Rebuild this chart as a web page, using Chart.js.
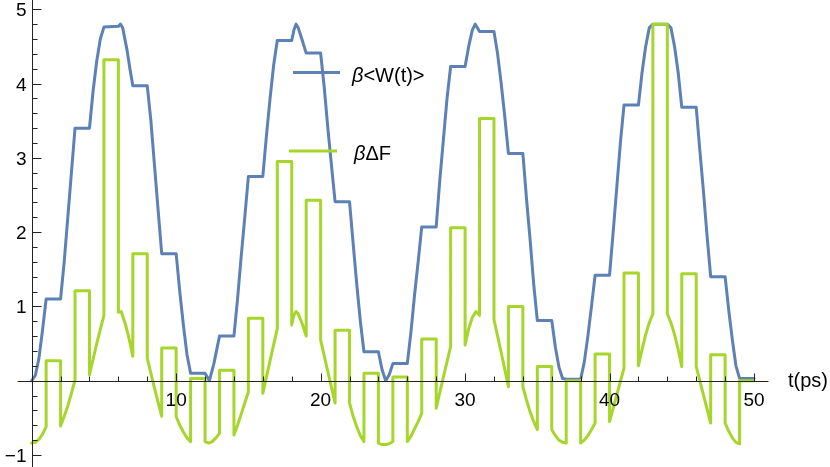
<!DOCTYPE html>
<html>
<head>
<meta charset="utf-8">
<script src="https://cdn.jsdelivr.net/npm/chart.js@4"></script>
<style>
  html, body { margin: 0; padding: 0; background: #fff; }
  #wrap { width: 830px; height: 467px; }
</style>
</head>
<body>
<div id="wrap"><canvas id="plot" width="830" height="467"></canvas></div>
<script>
// β<W(t)>  [t (ps), value]
const workPoints = [
  [0,0],[0.25,0.07],[0.5,0.3],[0.75,0.68],[1,1.1],
  [2,1.1],[2.25,1.6],[2.5,2.2],[2.75,2.8],[3,3.4],
  [4,3.4],[4.25,3.9],[4.5,4.3],[4.75,4.6],[5,4.76],
  [6,4.77],[6.15,4.8],[6.3,4.75],[6.6,4.45],[6.8,4.2],[7,3.97],
  [8,3.97],[8.25,3.5],[8.5,2.9],[8.75,2.3],[9,1.71],
  [10,1.71],[10.25,1.2],[10.5,0.75],[10.75,0.35],[11,0.1],
  [12,0.1],[12.3,0],[12.6,0.22],[13,0.6],
  [14,0.6],[14.25,1.1],[14.5,1.67],[14.75,2.2],[15,2.75],
  [16,2.75],[16.25,3.3],[16.5,3.8],[16.75,4.25],[17,4.58],
  [18,4.58],[18.15,4.72],[18.3,4.8],[18.45,4.75],[18.7,4.6],[19,4.41],
  [20,4.41],[20.25,3.95],[20.5,3.4],[20.75,2.9],[21,2.41],
  [22,2.41],[22.25,1.85],[22.5,1.3],[22.75,0.8],[23,0.39],
  [24,0.39],[24.25,0.15],[24.5,0],[24.75,0.08],[25,0.23],
  [26,0.23],[26.25,0.65],[26.5,1.15],[26.75,1.6],[27,2.07],
  [28,2.07],[28.25,2.7],[28.5,3.25],[28.75,3.8],[29,4.23],
  [30,4.23],[30.25,4.5],[30.5,4.72],[30.7,4.8],[30.85,4.75],[31,4.7],
  [32,4.7],[32.25,4.4],[32.5,4.0],[32.75,3.55],[33,3.06],
  [34,3.06],[34.25,2.45],[34.5,1.9],[34.75,1.3],[35,0.81],
  [36,0.81],[36.25,0.45],[36.5,0.18],[36.75,0.03],[37,0.02],
  [38,0.02],[38.25,0.25],[38.5,0.6],[38.75,1.0],[39,1.42],
  [40,1.42],[40.25,2.0],[40.5,2.6],[40.75,3.2],[41,3.71],
  [42,3.71],[42.25,4.15],[42.5,4.5],[42.75,4.75],[43,4.8],
  [44,4.8],[44.25,4.75],[44.5,4.5],[44.75,4.15],[45,3.68],
  [46,3.68],[46.25,3.1],[46.5,2.55],[46.75,1.95],[47,1.4],
  [48,1.4],[48.25,0.95],[48.5,0.55],[48.75,0.2],[49,0.03],
  [50,0.03]
];

// βΔF  [t (ps), value]
const freePoints = [
  [0,-0.84],[0.25,-0.83],[0.5,-0.79],[0.75,-0.72],[1,-0.62],
  [1,0.27],[2,0.27],
  [2,-0.61],[2.25,-0.48],[2.5,-0.34],[2.75,-0.17],[3,0.01],
  [3,1.21],[4,1.21],
  [4,0.08],[4.5,0.5],[5,0.88],
  [5,4.32],[6,4.32],
  [6,0.92],[6.2,0.93],[6.5,0.75],[6.75,0.56],[7,0.33],
  [7,1.71],[8,1.71],
  [8,0.3],[8.5,-0.1],[9,-0.48],
  [9,0.44],[10,0.44],
  [10,-0.48],[10.25,-0.6],[10.5,-0.69],[10.75,-0.77],[11,-0.82],
  [11,0.03],[12,0.03],
  [12,-0.82],[12.25,-0.84],[12.5,-0.82],[12.75,-0.77],[13,-0.71],
  [13,0.14],[14,0.14],
  [14,-0.73],[14.25,-0.6],[14.5,-0.45],[14.75,-0.3],[15,-0.15],
  [15,0.84],[16,0.84],
  [16,-0.17],[16.5,0.27],[17,0.7],
  [17,2.95],[18,2.95],
  [18,0.75],[18.15,0.88],[18.3,0.93],[18.45,0.9],[18.7,0.78],[19,0.6],
  [19,2.43],[20,2.43],
  [20,0.55],[20.5,0.12],[21,-0.3],
  [21,0.68],[22,0.68],
  [22,-0.3],[22.25,-0.48],[22.5,-0.62],[22.75,-0.74],[23,-0.82],
  [23,0.1],[24,0.1],
  [24,-0.84],[24.25,-0.86],[24.5,-0.86],[24.75,-0.85],[25,-0.82],
  [25,0.05],[26,0.05],
  [26,-0.82],[26.25,-0.75],[26.5,-0.65],[26.75,-0.55],[27,-0.44],
  [27,0.56],[28,0.56],
  [28,-0.37],[28.5,0.05],[29,0.46],
  [29,2.06],[30,2.06],
  [30,0.48],[30.25,0.7],[30.5,0.85],[30.75,0.93],[31,0.88],
  [31,3.53],[32,3.53],
  [32,0.82],[32.5,0.38],[33,-0.08],
  [33,1.0],[34,1.0],
  [34,-0.08],[34.25,-0.26],[34.5,-0.42],[34.75,-0.55],[35,-0.66],
  [35,0.19],[36,0.19],
  [36,-0.66],[36.25,-0.74],[36.5,-0.8],[36.75,-0.83],[37,-0.84],
  [37,0],[38,0],
  [38,-0.84],[38.25,-0.8],[38.5,-0.74],[38.75,-0.66],[39,-0.57],
  [39,0.36],[40,0.36],
  [40,-0.55],[40.5,-0.19],[41,0.17],
  [41,1.45],[42,1.45],
  [42,0.2],[42.25,0.42],[42.5,0.62],[42.75,0.78],[43,0.9],
  [43,4.8],[44,4.8],
  [44,0.9],[44.25,0.78],[44.5,0.62],[44.75,0.42],[45,0.19],
  [45,1.44],[46,1.44],
  [46,0.19],[46.5,-0.19],[47,-0.57],
  [47,0.35],[48,0.35],
  [48,-0.57],[48.25,-0.68],[48.5,-0.77],[48.75,-0.83],[49,-0.85],
  [49,0],[50,0]
];

const xMajorTicks = [10, 20, 30, 40, 50];
const yMajorTicks = [-1, 1, 2, 3, 4, 5];

const BLUE = '#5e81b5';
const GREEN = '#a6d62b';
const FONT = '"Liberation Sans", Arial, sans-serif';

const toXY = pts => pts.map(p => ({ x: p[0], y: p[1] }));

// Mathematica-style axes through the origin + legend
const mmaAxes = {
  id: 'mmaAxes',
  afterDatasetsDraw(chart) {
    const ctx = chart.ctx;
    const xs = chart.scales.x, ys = chart.scales.y;
    const X = v => xs.getPixelForValue(v);
    const Y = v => ys.getPixelForValue(v);
    const ox = Math.round(X(0)) + 0.5;
    const oy = Math.round(Y(0)) + 0.5;

    ctx.save();
    ctx.strokeStyle = '#222';
    ctx.lineWidth = 1;
    ctx.beginPath();
    ctx.moveTo(X(-0.97), oy); ctx.lineTo(X(51), oy);
    ctx.moveTo(ox, Y(5.14)); ctx.lineTo(ox, Y(-1.2));
    // x ticks
    for (let t = 2; t <= 50; t += 2) {
      const px = Math.round(X(t)) + 0.5;
      const len = t % 10 === 0 ? 8 : 5;
      ctx.moveTo(px, oy); ctx.lineTo(px, oy - len);
    }
    // y ticks
    for (let i = -5; i <= 25; i++) {
      if (i === 0) continue;
      const v = i / 5;
      const py = Math.round(Y(v)) + 0.5;
      const len = i % 5 === 0 ? 9 : 5;
      ctx.moveTo(ox, py); ctx.lineTo(ox + len, py);
    }
    ctx.stroke();

    ctx.fillStyle = '#000';
    ctx.font = '19px ' + FONT;
    ctx.textBaseline = 'alphabetic';
    ctx.textAlign = 'center';
    xMajorTicks.forEach(t => ctx.fillText(String(t), X(t), oy + 24.5));
    ctx.textAlign = 'right';
    yMajorTicks.forEach(v => ctx.fillText(v < 0 ? '\u2212' + (-v) : String(v), ox - 6, Y(v) + 7));

    ctx.textAlign = 'left';
    ctx.font = '20px ' + FONT;
    ctx.fillText('t(ps)', 788, oy + 5.5);

    // legend
    ctx.lineWidth = 3;
    ctx.lineCap = 'butt';
    ctx.strokeStyle = BLUE;
    ctx.beginPath(); ctx.moveTo(293, 72.5); ctx.lineTo(340, 72.5); ctx.stroke();
    ctx.strokeStyle = GREEN;
    ctx.beginPath(); ctx.moveTo(289, 151); ctx.lineTo(337, 151); ctx.stroke();

    const label = (x, y, rest) => {
      ctx.font = 'italic 20px ' + FONT;
      ctx.fillText('\u03b2', x, y);
      const w = ctx.measureText('\u03b2').width;
      ctx.font = '20px ' + FONT;
      ctx.fillText(rest, x + w, y);
    };
    label(352, 81.5, '<W(t)>');
    label(354, 159.5, '\u0394F');
    ctx.restore();
  }
};

new Chart(document.getElementById('plot'), {
  type: 'scatter',
  data: {
    datasets: [
      {
        label: 'β<W(t)>',
        data: toXY(workPoints),
        showLine: true,
        borderColor: BLUE,
        borderWidth: 3,
        pointRadius: 0,
        tension: 0,
        borderJoinStyle: 'round',
        borderCapStyle: 'round',
        order: 2
      },
      {
        label: 'βΔF',
        data: toXY(freePoints),
        showLine: true,
        borderColor: GREEN,
        borderWidth: 3,
        pointRadius: 0,
        tension: 0,
        borderJoinStyle: 'round',
        borderCapStyle: 'round',
        order: 1
      }
    ]
  },
  options: {
    responsive: false,
    animation: false,
    layout: { padding: 0 },
    scales: {
      x: { type: 'linear', min: -2.194, max: 55.26, display: false },
      y: { type: 'linear', min: -1.162, max: 5.125, display: false }
    },
    plugins: {
      legend: { display: false },
      tooltip: { enabled: false }
    }
  },
  plugins: [mmaAxes]
});
</script>
</body>
</html>
